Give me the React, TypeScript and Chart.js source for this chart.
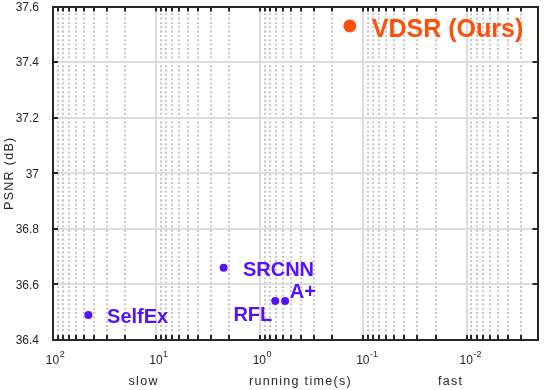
import { useEffect, useRef } from "react";
import { Chart, registerables } from "chart.js";

Chart.register(...registerables);

// ---- data ----
const methods = ["SelfEx", "SRCNN", "RFL", "A+", "VDSR (Ours)"];
const runningTimes = [45.5, 2.24, 0.71, 0.57, 0.135];
const psnrValues = [36.49, 36.66, 36.54, 36.54, 37.53];
const yTickValues = [36.4, 36.6, 36.8, 37.0, 37.2, 37.4, 37.6];
const xDecadeExponents = [2, 1, 0, -1, -2];
const xAxisWords = ["slow", "running time(s)", "fast"];
const xAxisWordTimes = [13.3, 0.405, 0.0143];
const yTitle = "PSNR (dB)";
const oursName = "VDSR (Ours)";

// ---- styles ----
const BLUE = "#5512FF";
const ORANGE = "#FF4F08";
const INK = "#262626";
const FONT = "'Liberation Sans', Arial, Helvetica, sans-serif";
const labelStyles: Record<string, { dx: number; dy: number; align: CanvasTextAlign; size: number }> = {
  "SelfEx": { dx: 18.7, dy: 7.7, align: "left", size: 20 },
  "SRCNN": { dx: 19.3, dy: 8, align: "left", size: 20 },
  "RFL": { dx: -3, dy: 20, align: "right", size: 20 },
  "A+": { dx: 4.7, dy: -2.7, align: "left", size: 20 },
  "VDSR (Ours)": { dx: 22, dy: 11, align: "left", size: 25 },
};

const matlabPlugin = {
  id: "matlabLook",
  beforeDatasetsDraw(chart: any) {
    const { ctx, chartArea, scales } = chart;
    const { left, right, top, bottom } = chartArea;
    const x = scales.x;
    const y = scales.y;
    ctx.save();
    // minor vertical dotted grid
    ctx.lineWidth = 2;
    ctx.strokeStyle = "#c6c6c6";
    ctx.setLineDash([2, 2.33]);
    for (let e = -3; e <= 2; e++) {
      for (let k = 2; k <= 9; k++) {
        const v = k * Math.pow(10, e);
        if (v < x.min || v > x.max) continue;
        const px = Math.round(x.getPixelForValue(v));
        ctx.beginPath();
        ctx.moveTo(px, bottom);
        ctx.lineTo(px, top);
        ctx.stroke();
      }
    }
    ctx.setLineDash([]);
    // major grid
    ctx.strokeStyle = "#dcdcdc";
    ctx.lineWidth = 2;
    for (const e of xDecadeExponents) {
      const px = Math.round(x.getPixelForValue(Math.pow(10, e)));
      if (px <= left + 1 || px >= right - 1) continue;
      ctx.beginPath();
      ctx.moveTo(px, top);
      ctx.lineTo(px, bottom);
      ctx.stroke();
    }
    for (const v of yTickValues) {
      const py = Math.round(y.getPixelForValue(v));
      if (py <= top + 1 || py >= bottom - 1) continue;
      ctx.beginPath();
      ctx.moveTo(left, py);
      ctx.lineTo(right, py);
      ctx.stroke();
    }
    ctx.restore();
  },
  afterDatasetsDraw(chart: any) {
    const { ctx, chartArea, scales } = chart;
    const { left, right, top, bottom } = chartArea;
    const x = scales.x;
    const y = scales.y;
    ctx.save();
    // ticks (inward)
    ctx.strokeStyle = INK;
    ctx.lineWidth = 2;
    const tl = 5;
    for (let e = -3; e <= 2; e++) {
      for (let k = 1; k <= 9; k++) {
        const v = k * Math.pow(10, e);
        if (v < x.min || v > x.max) continue;
        const px = Math.round(x.getPixelForValue(v));
        ctx.beginPath();
        ctx.moveTo(px, bottom);
        ctx.lineTo(px, bottom - tl);
        ctx.moveTo(px, top);
        ctx.lineTo(px, top + tl);
        ctx.stroke();
      }
    }
    for (const v of yTickValues) {
      const py = Math.round(y.getPixelForValue(v));
      ctx.beginPath();
      ctx.moveTo(left, py);
      ctx.lineTo(left + tl, py);
      ctx.moveTo(right, py);
      ctx.lineTo(right - tl, py);
      ctx.stroke();
    }
    // box
    ctx.strokeRect(Math.round(left), Math.round(top), Math.round(right) - Math.round(left), Math.round(bottom) - Math.round(top));

    // y tick labels
    ctx.fillStyle = INK;
    ctx.font = `12px ${FONT}`;
    ctx.textAlign = "right";
    ctx.textBaseline = "middle";
    for (const v of yTickValues) {
      const py = y.getPixelForValue(v);
      ctx.fillText(String(Number(v.toFixed(1))), left - 14, py + 1);
    }
    // x tick labels 10^e
    ctx.textBaseline = "alphabetic";
    for (const e of xDecadeExponents) {
      const px = x.getPixelForValue(Math.pow(10, e));
      ctx.font = `12px ${FONT}`;
      ctx.textAlign = "center";
      ctx.fillText("10", px - 0.5, 364);
      const w = ctx.measureText("10").width;
      ctx.font = `9px ${FONT}`;
      ctx.textAlign = "left";
      ctx.fillText(String(e), px - 0.5 + w / 2 + 0.5, 357);
    }
    // x axis words
    ctx.font = `12.5px ${FONT}`;
    (ctx as any).letterSpacing = "1.3px";
    ctx.textAlign = "center";
    xAxisWords.forEach((word, i) => {
      ctx.fillText(word, x.getPixelForValue(xAxisWordTimes[i]), 385);
    });
    // y title
    ctx.translate(10, (top + bottom) / 2);
    ctx.rotate(-Math.PI / 2);
    ctx.textBaseline = "middle";
    ctx.fillText(yTitle, 0, 0);
    ctx.restore();

    // point labels
    ctx.save();
    const meta = chart.getDatasetMeta(0);
    methods.forEach((name, i) => {
      const el = meta.data[i];
      const st = labelStyles[name];
      ctx.font = `bold ${st.size}px ${FONT}`;
      ctx.fillStyle = name === oursName ? ORANGE : BLUE;
      ctx.textAlign = st.align;
      ctx.textBaseline = "alphabetic";
      ctx.fillText(name, el.x + st.dx, el.y + st.dy);
    });
    ctx.restore();
  },
};

export default function App() {
  const ref = useRef<HTMLCanvasElement>(null);
  useEffect(() => {
    if (!ref.current) return;
    const isOurs = (i: number) => methods[i] === oursName;
    const chart = new Chart(ref.current, {
      type: "scatter",
      data: {
        datasets: [
          {
            data: runningTimes.map((t, i) => ({ x: t, y: psnrValues[i] })),
            pointRadius: (c: any) => (isOurs(c.dataIndex) ? 6.5 : 4),
            pointHoverRadius: (c: any) => (isOurs(c.dataIndex) ? 6.5 : 4),
            pointBackgroundColor: (c: any) => (isOurs(c.dataIndex) ? ORANGE : BLUE),
            pointBorderWidth: 0,
            borderWidth: 0,
            showLine: false,
            clip: false as any,
          },
        ],
      },
      options: {
        animation: false,
        responsive: false,
        devicePixelRatio: 1,
        layout: { padding: { top: 4, right: 1, left: 0, bottom: 0 } },
        plugins: { legend: { display: false }, tooltip: { enabled: false } },
        events: [],
        scales: {
          x: {
            type: "logarithmic",
            reverse: true,
            min: Math.pow(10, -2.684),
            max: 100,
            grid: { display: false },
            border: { display: false },
            ticks: { display: false },
            afterFit: (s: any) => {
              s.height = 50;
            },
          },
          y: {
            type: "linear",
            min: 36.4,
            max: 37.6,
            grid: { display: false },
            border: { display: false },
            ticks: { display: false },
            afterFit: (s: any) => {
              s.width = 53;
            },
          },
        },
      },
      plugins: [matlabPlugin],
    });
    return () => chart.destroy();
  }, []);
  return (
    <div style={{ position: "fixed", left: 0, top: 0, width: 544, height: 390, background: "#fff" }}>
      <canvas ref={ref} width={544} height={390} style={{ display: "block" }} />
    </div>
  );
}
